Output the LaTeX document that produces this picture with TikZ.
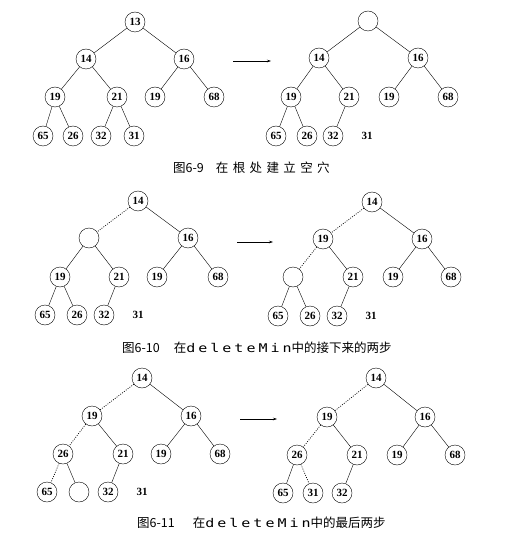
\documentclass[tikz,border=0pt]{standalone}
\usepackage{fontspec}
\usepackage{graphicx}
\usepackage{tikz}
\usetikzlibrary{arrows.meta}
\setmainfont{Liberation Serif}
\newfontfamily\cjk{Noto Sans CJK SC}
\newfontfamily\cjkwide{Noto Sans CJK SC}[LetterSpace=35]
\newfontfamily\codefont{DejaVu Sans Mono}[LetterSpace=20]
\newcommand{\codeword}[1]{\scalebox{1.25}[1]{\fontsize{12}{12}\codefont #1}}

\begin{document}
\begin{tikzpicture}[x=1pt,y=-1pt]
		\useasboundingbox (0,0) rectangle (517,537);
		\tikzset{hole/.style={draw=none,fill=none},
			moved/.style={draw,line width=0.7pt,dash pattern=on 0.9pt off 1.4pt}}
		% figure 6-9
		\begin{scope}[every node/.style={circle,draw,thin,minimum size=20pt,inner sep=0pt,font=\fontsize{11}{11}\selectfont\bfseries}]
			\node (A1) at (135,22) {13};
			\node (A2) at (86,59) {14};
			\node (A3) at (184,59) {16};
			\node (A4) at (55,97) {19};
			\node (A5) at (117,97) {21};
			\node (A6) at (155,97) {19};
			\node (A7) at (214,97) {68};
			\node (A8) at (43,136) {65};
			\node (A9) at (73,136) {26};
			\node (A10) at (101,136) {32};
			\node (A11) at (134,136) {31};
			\node (B1) at (368,21) {};
			\node (B2) at (319,58) {14};
			\node (B3) at (418,58) {16};
			\node (B4) at (291,97) {19};
			\node (B5) at (349,97) {21};
			\node (B6) at (389,97) {19};
			\node (B7) at (448,97) {68};
			\node (B8) at (276,136) {65};
			\node (B9) at (307,136) {26};
			\node (B10) at (333,136) {32};
			\node[hole] (B11) at (367,136) {31};
		\end{scope}
		% figure 6-10
		\begin{scope}[every node/.style={circle,draw,thin,minimum size=20pt,inner sep=0pt,font=\fontsize{11}{11}\selectfont\bfseries}]
			\node (C1) at (138,201) {14};
			\node (C2) at (89,238) {};
			\node (C3) at (188,238) {16};
			\node (C4) at (60,277) {19};
			\node (C5) at (119,277) {21};
			\node (C6) at (157,277) {19};
			\node (C7) at (218,277) {68};
			\node (C8) at (45,315) {65};
			\node (C9) at (77,315) {26};
			\node (C10) at (104,315) {32};
			\node[hole] (C11) at (138,315) {31};
			\node (D1) at (372,202) {14};
			\node (D2) at (323,239) {19};
			\node (D3) at (422,239) {16};
			\node (D4) at (293,277) {};
			\node (D5) at (353,277) {21};
			\node (D6) at (393,277) {19};
			\node (D7) at (451,277) {68};
			\node (D8) at (278,316) {65};
			\node (D9) at (310,316) {26};
			\node (D10) at (337,316) {32};
			\node[hole] (D11) at (371,316) {31};
		\end{scope}
		% figure 6-11
		\begin{scope}[every node/.style={circle,draw,thin,minimum size=20pt,inner sep=0pt,font=\fontsize{11}{11}\selectfont\bfseries}]
			\node (E1) at (142,378) {14};
			\node (E2) at (92,416) {19};
			\node (E3) at (191,416) {16};
			\node (E4) at (63,454) {26};
			\node (E5) at (123,454) {21};
			\node (E6) at (161,454) {19};
			\node (E7) at (220,454) {68};
			\node (E8) at (47,492) {65};
			\node (E9) at (79,492) {};
			\node (E10) at (108,492) {32};
			\node[hole] (E11) at (142,492) {31};
			\node (F1) at (376,378) {14};
			\node (F2) at (327,417) {19};
			\node (F3) at (425,417) {16};
			\node (F4) at (297,455) {26};
			\node (F5) at (357,455) {21};
			\node (F6) at (397,455) {19};
			\node (F7) at (455,455) {68};
			\node (F8) at (283,493) {65};
			\node (F9) at (313,493) {31};
			\node (F10) at (342,493) {32};
		\end{scope}
		\begin{scope}[every edge/.style={draw,thin}]
			\path (A1) edge (A2) (A1) edge (A3) (A2) edge (A4) (A2) edge (A5);
			\path (A3) edge (A6) (A3) edge (A7) (A4) edge (A8) (A4) edge (A9);
			\path (A5) edge (A10) (A5) edge (A11);
			\path (B1) edge (B2) (B1) edge (B3) (B2) edge (B4) (B2) edge (B5);
			\path (B3) edge (B6) (B3) edge (B7) (B4) edge (B8) (B4) edge (B9);
			\path (B5) edge (B10);
			\path (C1) edge[moved] (C2) (C1) edge (C3) (C2) edge (C4) (C2) edge (C5);
			\path (C3) edge (C6) (C3) edge (C7) (C4) edge (C8) (C4) edge (C9);
			\path (C5) edge (C10);
			\path (D1) edge[moved] (D2) (D1) edge (D3) (D2) edge[moved] (D4) (D2) edge (D5);
			\path (D3) edge (D6) (D3) edge (D7) (D4) edge (D8) (D4) edge (D9);
			\path (D5) edge (D10);
			\path (E1) edge[moved] (E2) (E1) edge (E3) (E2) edge[moved] (E4) (E2) edge (E5);
			\path (E3) edge (E6) (E3) edge (E7) (E4) edge[moved] (E8) (E4) edge (E9);
			\path (E5) edge (E10);
			\path (F1) edge[moved] (F2) (F1) edge (F3) (F2) edge[moved] (F4) (F2) edge (F5);
			\path (F3) edge (F6) (F3) edge (F7) (F4) edge (F8) (F4) edge[moved] (F9);
			\path (F5) edge (F10);
		\end{scope}
		% arrows between the steps
		\coordinate (arrA) at (233,61);
		\coordinate (arrB) at (271,61);
		\coordinate (arrC) at (237,242);
		\coordinate (arrD) at (273,242);
		\coordinate (arrE) at (240,419);
		\coordinate (arrF) at (277,419);
		\begin{scope}[>={Stealth[length=4pt,width=2.5pt]}]
			\draw[->,thin] (arrA) -- (arrB);
			\draw[->,thin] (arrC) -- (arrD);
			\draw[->,thin] (arrE) -- (arrF);
		\end{scope}
		% captions
		\node[anchor=west,inner sep=0pt,font=\fontsize{12.5}{12.5}\selectfont] (cap9) at (173,168) {\cjk 图6-9\hspace{12pt}\cjkwide 在根处建立空穴};
		\node[anchor=west,inner sep=0pt,font=\fontsize{12.5}{12.5}\selectfont] (cap10) at (122,348) {\cjk 图6-10\hspace{14pt}在\codeword{deleteMin}中的接下来的两步};
		\node[anchor=west,inner sep=0pt,font=\fontsize{12.5}{12.5}\selectfont] (cap11) at (137,523) {\cjk 图6-11\hspace{18pt}在\codeword{deleteMin}中的最后两步};
\end{tikzpicture}
\end{document}
